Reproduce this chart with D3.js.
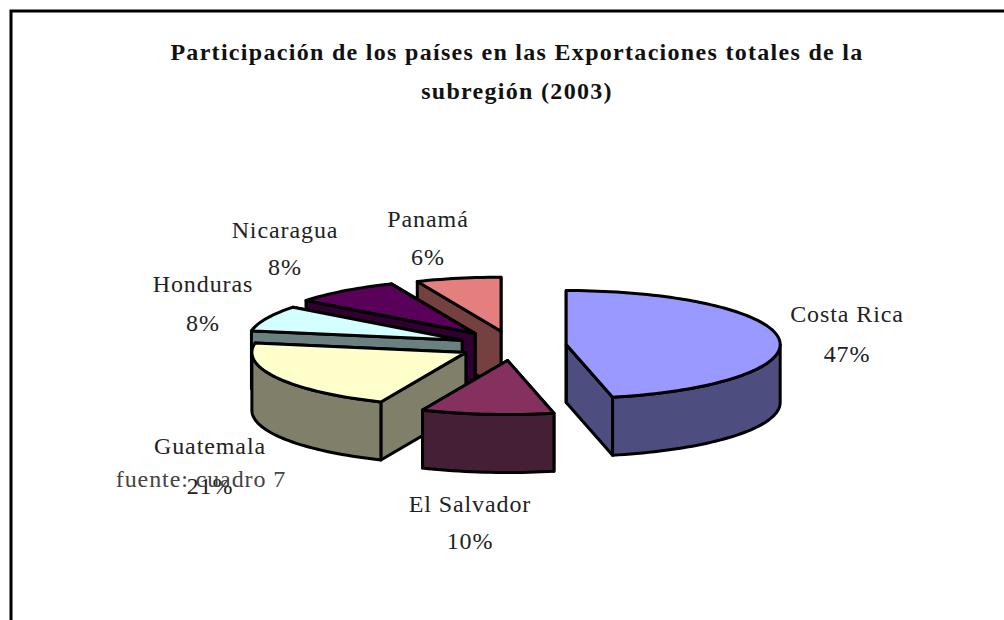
<!DOCTYPE html>
<html><head><meta charset="utf-8">
<script src="https://cdn.jsdelivr.net/npm/d3@7/dist/d3.min.js"></script>
<style>html,body{margin:0;padding:0;background:#fff;overflow:hidden}svg{display:block}</style>
</head><body><svg id="c" width="1004" height="620"></svg>
<script>
const categories = ["Costa Rica","El Salvador","Guatemala","Honduras","Nicaragua","Panamá"];
const shares = [46.52,9.98,21.3,7.7,8.1,6.4];
const topColors = ["#9999ff","#85305f","#ffffcc","#d4ffff","#590059","#e57f7f"];
const sideColors = ["#4d4d7f","#441f35","#80806a","#6b8080","#300030","#754040"];
const explode = [0.25,0.27,0.25,0.26,0.29,0.28];
const paintOrder = [5,4,3,2,1,0];
const labelX = [847,470,210,203,285,428];
const labelY1 = [322,512,454,292,238,227];
const labelY2 = [362,549,494,331,275,265];
const titleLines = ["Participación de los países en las Exportaciones totales de la","subregión (2003)"];
const note = "fuente: cuadro 7";

const W=1004,H=620,cx=513,cy=346,rx=214,ry=54,depth=58;
const svg=d3.select("#c");
svg.append("path").attr("d",d3.line()([[W,11],[11,11],[11,H]])).attr("fill","none").attr("stroke","#000").attr("stroke-width",3);

titleLines.forEach((t,i)=>svg.append("text").attr("x",517).attr("y",[60,99][i]).attr("text-anchor","middle")
  .attr("font-family","Liberation Serif").attr("font-weight","bold").attr("font-size",24).attr("letter-spacing",1.3).attr("fill","#111").text(t));

const arcs=d3.pie().sort(null).startAngle(0).endAngle(2*Math.PI)(shares);
const line=d3.line();
const pt=(o,a,dz=0)=>[o[0]+rx*Math.sin(a),o[1]-ry*Math.cos(a)+dz];
const arcPts=(o,a0,a1,dz=0)=>{const n=Math.max(2,Math.ceil((a1-a0)/0.03));return d3.range(n+1).map(i=>pt(o,a0+(a1-a0)*i/n,dz));};
const sty=(s,f)=>s.attr("fill",f).attr("stroke","#000").attr("stroke-width",3).attr("stroke-linejoin","round");
const g=svg.append("g");
paintOrder.forEach(i=>{
  const d=arcs[i],mid=(d.startAngle+d.endAngle)/2,k=explode[i];
  const o=[cx+k*rx*Math.sin(mid),cy-k*ry*Math.cos(mid)];
  const o2=[o[0],o[1]+depth];
  const wall=a=>{const p=pt(o,a);return line([o,p,[p[0],p[1]+depth],o2])+"Z";};
  sty(g.append("path").attr("d",wall(d.endAngle)),sideColors[i]);
  sty(g.append("path").attr("d",wall(d.startAngle)),sideColors[i]);
  const a0=Math.max(d.startAngle,Math.PI/2),a1=Math.min(d.endAngle,1.5*Math.PI);
  if(a1>a0){
    const up=arcPts(o,a0,a1),lo=arcPts(o,a0,a1,depth).reverse();
    sty(g.append("path").attr("d",line(up.concat(lo))+"Z"),sideColors[i]);
  }
  sty(g.append("path").attr("d",line([o].concat(arcPts(o,d.startAngle,d.endAngle)))+"Z"),topColors[i]);
});

const lab=svg.append("g").attr("font-family","Liberation Serif").attr("font-size",24).attr("letter-spacing",0.9).attr("fill","#222").attr("text-anchor","middle");
categories.forEach((c,i)=>{
  lab.append("text").attr("x",labelX[i]).attr("y",labelY1[i]).text(c);
  lab.append("text").attr("x",labelX[i]).attr("y",labelY2[i]).text(d3.format(".0f")(shares[i])+"%");
});
svg.append("text").attr("x",201).attr("y",487).attr("text-anchor","middle").attr("font-family","Liberation Serif").attr("font-size",24).attr("letter-spacing",0.9).attr("fill","#444").text(note);
</script></body></html>
